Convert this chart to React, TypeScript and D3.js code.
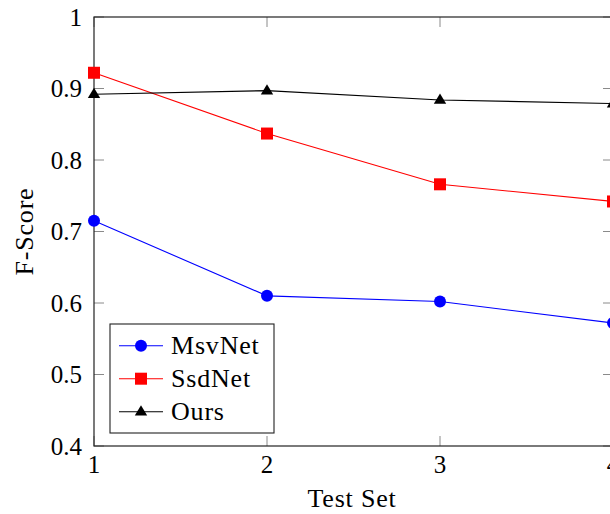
import React from "react";
import * as d3 from "d3";

const testSets = [1, 2, 3, 4];
const msvNet = [0.715, 0.61, 0.602, 0.572];
const ssdNet = [0.922, 0.837, 0.766, 0.742];
const ours = [0.892, 0.897, 0.884, 0.879];
const yTicks = [0.4, 0.5, 0.6, 0.7, 0.8, 0.9, 1];
const xTicks = [1, 2, 3, 4];
const yTickLabels = ["0.4", "0.5", "0.6", "0.7", "0.8", "0.9", "1"];
const seriesNames = ["MsvNet", "SsdNet", "Ours"];

const W = 610;
const H = 514;
const left = 94;
const right = 613;
const top = 17;
const bottom = 446;
const FONT = "'Liberation Serif', 'Times New Roman', serif";

export default function App() {
  const x = d3.scaleLinear().domain([1, 4]).range([left, right]);
  const y = d3.scaleLinear().domain([0.4, 1]).range([bottom, top]);
  const line = d3
    .line<number>()
    .x((_, i) => x(testSets[i]))
    .y((d) => y(d));

  const series = [
    { name: seriesNames[0], values: msvNet, color: "#0000ff", marker: "circle" },
    { name: seriesNames[1], values: ssdNet, color: "#ff0000", marker: "square" },
    { name: seriesNames[2], values: ours, color: "#000000", marker: "triangle" },
  ];

  const marker = (type: string, cx: number, cy: number, color: string, key: any) => {
    if (type === "circle") return <circle key={key} cx={cx} cy={cy} r={6} fill={color} />;
    if (type === "square")
      return <rect key={key} x={cx - 6} y={cy - 6} width={12} height={12} fill={color} />;
    const s = 6.5;
    return (
      <path
        key={key}
        d={`M${cx},${cy - s} L${cx + s * 0.95},${cy + s * 0.6} L${cx - s * 0.95},${cy + s * 0.6} Z`}
        fill={color}
      />
    );
  };

  const tickLen = 10;
  const tickColor = "#8a8a8a";
  const labelStyle = { letterSpacing: "0.8px" };

  return (
    <div style={{ position: "absolute", left: 0, top: 0 }}>
      <svg width={W} height={H} style={{ display: "block", background: "#fff" }}>
        {/* ticks */}
        {yTicks.map((t, i) => (
          <g key={"yt" + i}>
            <line x1={left} x2={left + tickLen} y1={y(t)} y2={y(t)} stroke={tickColor} strokeWidth={1} />
            <line x1={right} x2={right - tickLen} y1={y(t)} y2={y(t)} stroke={tickColor} strokeWidth={1} />
            <text
              x={82}
              y={y(t)}
              textAnchor="end"
              dominantBaseline="central"
              fontFamily={FONT}
              fontSize={25}
              fill="#000"
            >
              {yTickLabels[i]}
            </text>
          </g>
        ))}
        {xTicks.map((t, i) => (
          <g key={"xt" + i}>
            <line x1={x(t)} x2={x(t)} y1={bottom} y2={bottom - tickLen} stroke={tickColor} strokeWidth={1} />
            <line x1={x(t)} x2={x(t)} y1={top} y2={top + tickLen} stroke={tickColor} strokeWidth={1} />
            <text x={x(t)} y={473} textAnchor="middle" fontFamily={FONT} fontSize={25} fill="#000">
              {t}
            </text>
          </g>
        ))}
        {/* axis frame */}
        <rect
          x={left}
          y={top}
          width={right - left}
          height={bottom - top}
          fill="none"
          stroke="#222"
          strokeWidth={1.2}
        />
        {/* series */}
        {series.map((s) => (
          <g key={s.name}>
            <path d={line(s.values) || ""} fill="none" stroke={s.color} strokeWidth={1.1} />
            {s.values.map((v, i) => marker(s.marker, x(testSets[i]), y(v), s.color, i))}
          </g>
        ))}
        {/* legend */}
        <rect x={110} y={324} width={164} height={109} fill="#fff" stroke="#222" strokeWidth={1.1} />
        {series.map((s, i) => {
          const ly = 345.7 + i * 33;
          return (
            <g key={"lg" + i}>
              <line x1={119} x2={163} y1={ly} y2={ly} stroke={s.color} strokeWidth={1.1} />
              {marker(s.marker, 141, ly, s.color, "m")}
              <text
                x={171}
                y={ly}
                dominantBaseline="central"
                fontFamily={FONT}
                fontSize={26}
                fill="#000"
                style={labelStyle}
              >
                {s.name}
              </text>
            </g>
          );
        })}
        {/* axis titles */}
        <text
          x={352}
          y={507}
          textAnchor="middle"
          fontFamily={FONT}
          fontSize={26}
          fill="#000"
          style={labelStyle}
        >
          Test Set
        </text>
        <text
          transform={`translate(33, ${(top + bottom) / 2}) rotate(-90)`}
          textAnchor="middle"
          fontFamily={FONT}
          fontSize={26}
          fill="#000"
          style={labelStyle}
        >
          F-Score
        </text>
      </svg>
    </div>
  );
}
